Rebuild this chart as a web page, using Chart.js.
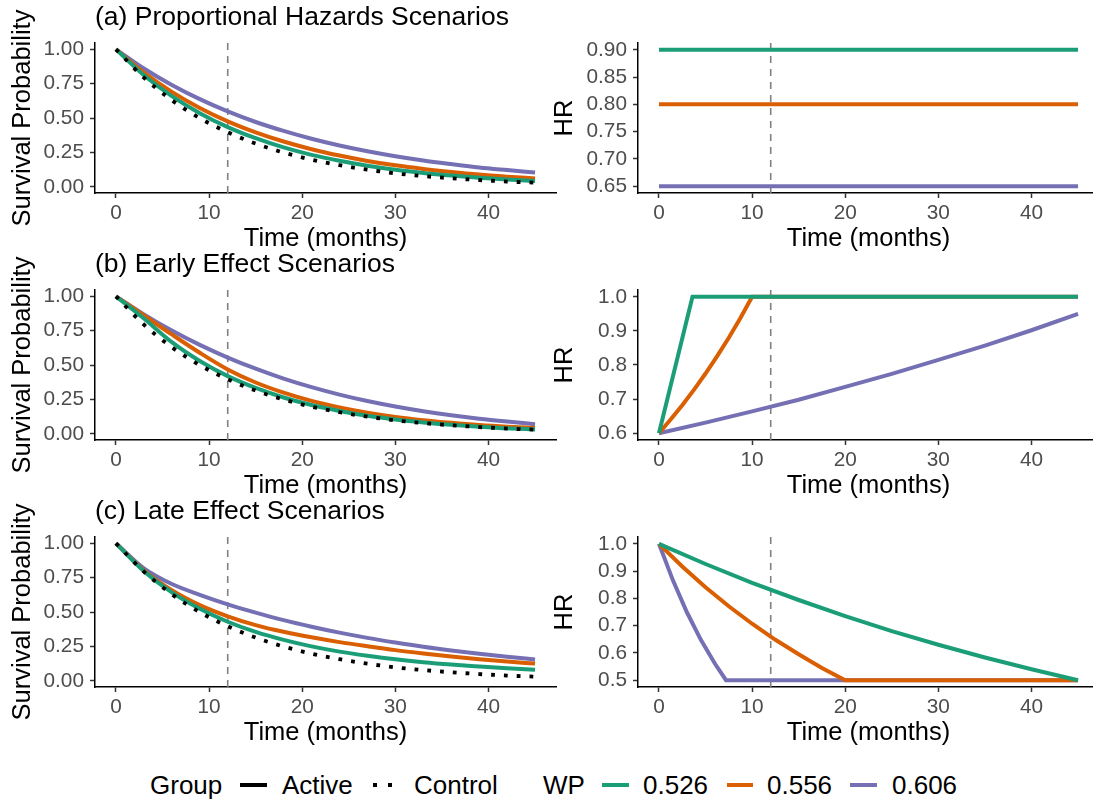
<!DOCTYPE html>
<html>
<head>
<meta charset="utf-8">
<script src="https://cdn.jsdelivr.net/npm/chart.js@4.4.1/dist/chart.umd.min.js"></script>
<style>
  html, body { margin: 0; padding: 0; background: #fff; width: 1093px; height: 804px; overflow: hidden; position: relative; font-family: "Liberation Sans", Arial, Helvetica, sans-serif; }
  canvas { position: absolute; }
  .lg { position: absolute; top: 770px; font-size: 26px; line-height: 30px; color: #000; white-space: nowrap; }
  .key { position: absolute; top: 783px; height: 4px; }
</style>
</head>
<body>
<canvas id="survA" style="left:0;top:0" width="560" height="254"></canvas>
<canvas id="hrA" style="left:548px;top:0" width="552" height="254"></canvas>
<canvas id="survB" style="left:0;top:247px" width="560" height="254"></canvas>
<canvas id="hrB" style="left:548px;top:247px" width="552" height="254"></canvas>
<canvas id="survC" style="left:0;top:494px" width="560" height="254"></canvas>
<canvas id="hrC" style="left:548px;top:494px" width="552" height="254"></canvas>

<!-- legend -->
<span class="lg" style="left:150px">Group</span>
<div class="key" style="left:240px;width:27px;background:#000"></div>
<span class="lg" style="left:282px">Active</span>
<div class="key" style="left:373px;width:4px;background:#000"></div>
<div class="key" style="left:388px;width:4px;background:#000"></div>
<span class="lg" style="left:414px">Control</span>
<span class="lg" style="left:543px">WP</span>
<div class="key" style="left:602px;width:27px;background:#1B9E77"></div>
<span class="lg" style="left:643px">0.526</span>
<div class="key" style="left:727px;width:26px;background:#D95F02"></div>
<span class="lg" style="left:767px">0.556</span>
<div class="key" style="left:850px;width:27px;background:#7570B3"></div>
<span class="lg" style="left:892px">0.606</span>

<script>
// --- data ---
const wpLabels = ['0.526', '0.556', '0.606'];
const wpColors = ['#1B9E77', '#D95F02', '#7570B3'];
const landmark = 12;

const timeTicks = [0, 10, 20, 30, 40];
const survTicks = [0, 0.25, 0.5, 0.75, 1];
const hrTicksPH = [0.65, 0.7, 0.75, 0.8, 0.85, 0.9];
const hrTicksEarly = [0.6, 0.7, 0.8, 0.9, 1.0];
const hrTicksLate = [0.5, 0.6, 0.7, 0.8, 0.9, 1.0];

// survival curves, months 0..45
const survTime = [0, 3, 6, 9, 12, 15, 18, 21, 24, 27, 30, 33, 36, 39, 42, 45];
const survControl = [1.000, 0.794, 0.630, 0.500, 0.397, 0.315, 0.250, 0.198, 0.158, 0.125, 0.099, 0.079, 0.063, 0.050, 0.039, 0.031];

const survPH526 = [1.000, 0.812, 0.660, 0.536, 0.435, 0.354, 0.287, 0.233, 0.190, 0.154, 0.125, 0.102, 0.083, 0.067, 0.054, 0.044];
const survPH556 = [1.000, 0.831, 0.691, 0.574, 0.477, 0.397, 0.330, 0.274, 0.228, 0.189, 0.157, 0.131, 0.109, 0.090, 0.075, 0.062];
const survPH606 = [1.000, 0.861, 0.741, 0.638, 0.549, 0.472, 0.407, 0.350, 0.301, 0.259, 0.223, 0.192, 0.166, 0.142, 0.123, 0.105];

const survEarly526 = [1.000, 0.839, 0.667, 0.530, 0.420, 0.334, 0.265, 0.210, 0.167, 0.132, 0.105, 0.084, 0.067, 0.053, 0.041, 0.033];
const survEarly556 = [1.000, 0.861, 0.723, 0.590, 0.469, 0.374, 0.300, 0.240, 0.193, 0.155, 0.124, 0.100, 0.081, 0.065, 0.053, 0.044];
const survEarly606 = [1.000, 0.869, 0.751, 0.647, 0.555, 0.474, 0.402, 0.340, 0.286, 0.239, 0.199, 0.165, 0.136, 0.111, 0.090, 0.071];

const survLate526 = [1.000, 0.798, 0.643, 0.524, 0.430, 0.356, 0.298, 0.251, 0.213, 0.183, 0.157, 0.136, 0.119, 0.105, 0.092, 0.082];
const survLate556 = [1.000, 0.803, 0.659, 0.551, 0.470, 0.406, 0.357, 0.317, 0.282, 0.252, 0.224, 0.200, 0.178, 0.158, 0.141, 0.126];
const survLate606 = [1.000, 0.818, 0.704, 0.626, 0.557, 0.497, 0.442, 0.394, 0.351, 0.313, 0.279, 0.248, 0.221, 0.197, 0.176, 0.156];

// hazard ratio curves
const hrTimePH = [0, 45];
const hrPH526 = [0.90, 0.90];
const hrPH556 = [0.80, 0.80];
const hrPH606 = [0.65, 0.65];

const hrEarlyTime526 = [0, 3.6, 45];
const hrEarly526 = [0.60, 1.00, 1.00];
const hrEarlyTime556 = [0, 1.25, 2.5, 3.75, 5, 6.25, 7.5, 8.75, 10, 45];
const hrEarly556 = [0.600, 0.640, 0.682, 0.727, 0.775, 0.826, 0.880, 0.938, 1.000, 1.000];
const hrEarlyTime606 = [0, 5, 10, 15, 20, 25, 30, 35, 40, 45];
const hrEarly606 = [0.600, 0.631, 0.664, 0.698, 0.736, 0.774, 0.815, 0.857, 0.902, 0.950];

const hrLateTime526 = [0, 5, 10, 15, 20, 25, 30, 35, 40, 45];
const hrLate526 = [1.000, 0.926, 0.857, 0.794, 0.735, 0.680, 0.630, 0.583, 0.540, 0.500];
const hrLateTime556 = [0, 2.5, 5, 7.5, 10, 12.5, 15, 17.5, 20, 45];
const hrLate556 = [1.000, 0.917, 0.841, 0.771, 0.707, 0.648, 0.595, 0.545, 0.500, 0.500];
const hrLateTime606 = [0, 1.5, 3, 4.5, 6, 7.2, 45];
const hrLate606 = [1.000, 0.866, 0.749, 0.648, 0.561, 0.500, 0.500];

// --- drawing ---
const FONT = '"Liberation Sans", Arial, Helvetica, sans-serif';

const landmarkLine = {
    id: 'landmarkLine',
    beforeDatasetsDraw(chart) {
        const { ctx, chartArea, scales } = chart;
        const px = scales.x.getPixelForValue(landmark);
        ctx.save();
        ctx.strokeStyle = '#808080';
        ctx.lineWidth = 1.6;
        ctx.setLineDash([7, 6]);
        ctx.beginPath();
        ctx.moveTo(px, chartArea.top);
        ctx.lineTo(px, chartArea.bottom);
        ctx.stroke();
        ctx.restore();
    }
};

function serie(xs, ys, color, dotted, smooth) {
    return {
        data: xs.map((x, i) => ({ x: x, y: ys[i] })),
        borderColor: color,
        borderWidth: dotted ? 3.8 : 4,
        borderDash: dotted ? [3.8, 9] : [],
        borderCapStyle: 'butt',
        cubicInterpolationMode: smooth ? 'monotone' : 'default',
        tension: 0,
        pointRadius: 0,
        fill: false
    };
}

function survSeries(g, o, p) {
    // dataset 0 is drawn on top
    return [
        serie(survTime, survControl, '#000000', true, true),
        serie(survTime, g, wpColors[0], false, true),
        serie(survTime, o, wpColors[1], false, true),
        serie(survTime, p, wpColors[2], false, true)
    ];
}

function panel(id, title, yTitle, yMin, yMax, yTicks, digits, datasets, isLeft) {
    new Chart(document.getElementById(id), {
        type: 'line',
        data: { datasets: datasets },
        options: {
            responsive: false,
            animation: false,
            events: [],
            layout: { padding: { top: title ? 0 : 43, left: 0, bottom: 0, right: isLeft ? 4 : 1 } },
            plugins: {
                legend: { display: false },
                tooltip: { enabled: false },
                title: {
                    display: !!title,
                    text: title,
                    align: 'start',
                    fullSize: false,
                    color: '#000',
                    font: { family: FONT, size: 26.5, weight: 'normal', lineHeight: 1.2 },
                    padding: { top: 1.4, bottom: 9.8 }
                }
            },
            scales: {
                x: {
                    type: 'linear',
                    min: -2.25,
                    max: 47.25,
                    afterFit: s => { s.height = 61; },
                    afterBuildTicks: s => { s.ticks = timeTicks.map(v => ({ value: v })); },
                    ticks: { color: '#4D4D4D', font: { family: FONT, size: 20.8 }, padding: 3, maxRotation: 0, autoSkip: false },
                    grid: { drawOnChartArea: false, drawTicks: true, tickLength: 5, tickColor: '#333333', tickWidth: 1.5 },
                    border: { color: '#000', width: 1.5 },
                    title: { display: true, text: 'Time (months)', color: '#000', font: { family: FONT, size: 25.5, lineHeight: 1.2 }, padding: { top: 0, bottom: 0 } }
                },
                y: {
                    type: 'linear',
                    min: yMin,
                    max: yMax,
                    afterFit: s => { s.width = isLeft ? 95 : 90; },
                    afterBuildTicks: s => { s.ticks = yTicks.map(v => ({ value: v })); },
                    ticks: { color: '#4D4D4D', font: { family: FONT, size: 20.8 }, padding: 6, autoSkip: false, callback: v => Number(v).toFixed(digits) },
                    grid: { drawOnChartArea: false, drawTicks: true, tickLength: 5, tickColor: '#333333', tickWidth: 1.5 },
                    border: { color: '#000', width: 1.5 },
                    title: { display: true, text: yTitle, color: '#000', font: { family: FONT, size: 25.5, lineHeight: 1.2 }, padding: { top: isLeft ? 7.2 : 1.7, bottom: 0 } }
                }
            }
        },
        plugins: [landmarkLine]
    });
}

panel('survA', '(a) Proportional Hazards Scenarios', 'Survival Probability', -0.044, 1.046, survTicks, 2,
    survSeries(survPH526, survPH556, survPH606), true);
panel('survB', '(b) Early Effect Scenarios', 'Survival Probability', -0.044, 1.046, survTicks, 2,
    survSeries(survEarly526, survEarly556, survEarly606), true);
panel('survC', '(c) Late Effect Scenarios', 'Survival Probability', -0.044, 1.046, survTicks, 2,
    survSeries(survLate526, survLate556, survLate606), true);

panel('hrA', '', 'HR', 0.6375, 0.9125, hrTicksPH, 2, [
    serie(hrTimePH, hrPH526, wpColors[0], false, false),
    serie(hrTimePH, hrPH556, wpColors[1], false, false),
    serie(hrTimePH, hrPH606, wpColors[2], false, false)
], false);
panel('hrB', '', 'HR', 0.58, 1.02, hrTicksEarly, 1, [
    serie(hrEarlyTime526, hrEarly526, wpColors[0], false, false),
    serie(hrEarlyTime556, hrEarly556, wpColors[1], false, false),
    serie(hrEarlyTime606, hrEarly606, wpColors[2], false, false)
], false);
panel('hrC', '', 'HR', 0.475, 1.025, hrTicksLate, 1, [
    serie(hrLateTime526, hrLate526, wpColors[0], false, false),
    serie(hrLateTime556, hrLate556, wpColors[1], false, false),
    serie(hrLateTime606, hrLate606, wpColors[2], false, false)
], false);
</script>
</body>
</html>
